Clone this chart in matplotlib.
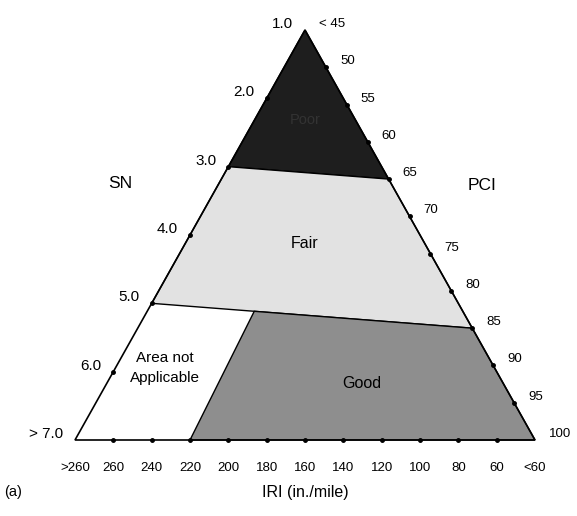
import matplotlib.pyplot as plt
import numpy as np

plt.rcParams['font.family'] = ['Liberation Sans', 'DejaVu Sans']

sn_labels = ["1.0", "2.0", "3.0", "4.0", "5.0", "6.0", "> 7.0"]
pci_labels = ["< 45", "50", "55", "60", "65", "70", "75", "80", "85", "90", "95", "100"]
iri_labels = [">260", "260", "240", "220", "200", "180", "160", "140", "120", "100", "80", "60", "<60"]
zones = ["Poor", "Fair", "Good"]
# zone limits: (SN index on left side, PCI index on right side)
poor_fair = (2, 4)      # SN 3.0 -> PCI 65
fair_good = (4, 8)      # SN 5.0 -> PCI 85
good_iri = 3            # IRI 220
good_frac = 0.32        # where Good meets the Fair bottom edge

apex = np.array([305, 30.0])
bl = np.array([75, 440.0])
br = np.array([535, 440.0])

def left(i):
    return apex + (bl - apex) * i / (len(sn_labels) - 1)

def right(i):
    return apex + (br - apex) * i / (len(pci_labels) - 1)

def bottom(i):
    return bl + (br - bl) * i / (len(iri_labels) - 1)

fig = plt.figure(figsize=(5.77, 5.16), dpi=100)
ax = fig.add_axes([0, 0, 1, 1])
ax.set_xlim(0, 577)
ax.set_ylim(516, 0)
ax.axis("off")

a, b = left(poor_fair[0]), right(poor_fair[1])
c, d = left(fair_good[0]), right(fair_good[1])
g = c + (d - c) * good_frac
ax.add_patch(plt.Polygon([apex, b, a], fc="#1e1e1e", ec="black", lw=1))
ax.add_patch(plt.Polygon([a, b, d, c], fc="#e2e2e2", ec="black", lw=1))
ax.add_patch(plt.Polygon([g, d, br, bottom(good_iri)], fc="#8e8e8e", ec="black", lw=1))
ax.add_patch(plt.Polygon([apex, bl, br], fill=False, ec="black", lw=1.2))

for i, t in enumerate(sn_labels):
    p = left(i)
    if 0 < i < len(sn_labels) - 1:
        ax.plot(*p, "k.", ms=5)
    ax.text(p[0] - 12, p[1] - 6, t, ha="right", va="center", fontsize=11)
for i, t in enumerate(pci_labels):
    p = right(i)
    if 0 < i < len(pci_labels) - 1:
        ax.plot(*p, "k.", ms=5)
    ax.text(p[0] + 14, p[1] - 6, t, ha="left", va="center", fontsize=9.5)
for i, t in enumerate(iri_labels):
    p = bottom(i)
    if 0 < i < len(iri_labels) - 1:
        ax.plot(*p, "k.", ms=5)
    ax.text(p[0], p[1] + 28, t, ha="center", va="center", fontsize=9.5)

ax.text(120, 183, "SN", fontsize=12.5, ha="center", va="center")
ax.text(482, 185, "PCI", fontsize=12.5, ha="center", va="center")
ax.text(305, 492, "IRI (in./mile)", fontsize=11.5, ha="center", va="center")
ax.text(4, 492, "(a)", fontsize=10.5, ha="left", va="center")
ax.text(305, 120, zones[0], fontsize=10.5, ha="center", va="center", color="#333333")
ax.text(305, 244, zones[1], fontsize=11.5, ha="center", va="center")
ax.text(362, 383, zones[2], fontsize=11.5, ha="center", va="center")
ax.text(165, 368, "Area not\nApplicable", fontsize=11, ha="center", va="center",
        linespacing=1.5)

fig.savefig("out.png", dpi=100)
